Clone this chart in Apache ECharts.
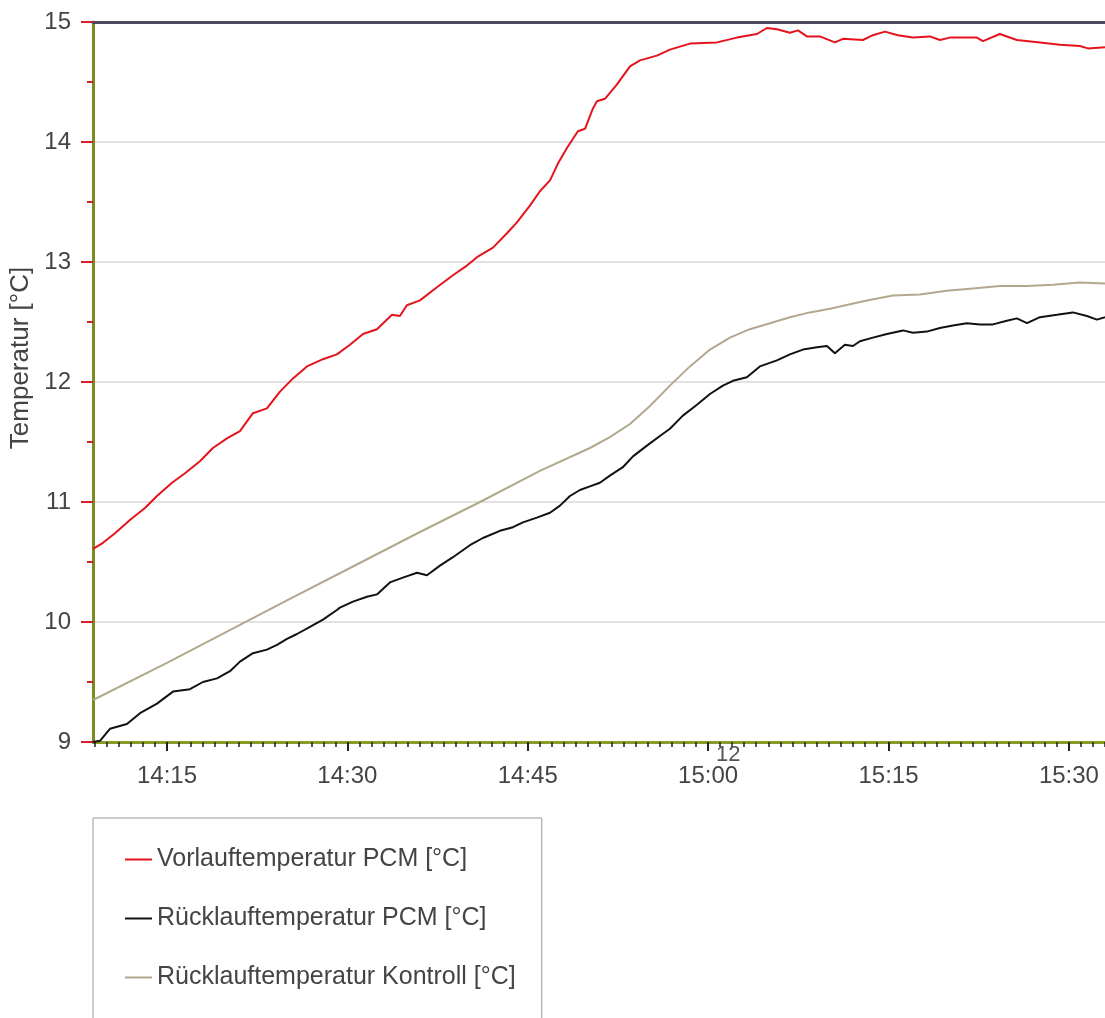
<!DOCTYPE html>
<html>
<head>
<meta charset="utf-8">
<script src="https://cdn.jsdelivr.net/npm/echarts@6/dist/echarts.min.js"></script>
<style>
  html, body { margin: 0; padding: 0; background: #fff; }
  #main { width: 1105px; height: 1018px; }
</style>
</head>
<body>
<div id="main"></div>
<script>
/* ===== data: times in minutes after 14:00 ===== */
const seriesNames = ['Vorlauftemperatur PCM [°C]', 'Rücklauftemperatur PCM [°C]', 'Rücklauftemperatur Kontroll [°C]'];
const tickLabels = ['14:15', '14:30', '14:45', '15:00', '15:15', '15:30'];

const vorlaufTimes = [8.85, 9.68, 10.68, 11.92, 13.17, 14.17, 15.42, 16.50, 17.74, 18.82,
  19.99, 21.07, 22.15, 23.31, 24.40, 25.48, 26.64, 27.97, 29.13, 30.22,
  31.30, 32.46, 33.71, 34.37, 34.95, 36.04, 37.45, 38.78, 39.94, 40.78,
  42.11, 43.27, 44.10, 45.18, 46.01, 46.85, 47.51, 48.26, 49.17, 49.76,
  50.42, 50.75, 51.42, 52.42, 53.50, 54.33, 55.74, 56.82, 58.49, 60.73,
  62.39, 64.06, 64.89, 65.72, 66.80, 67.47, 68.21, 69.29, 70.54, 71.21,
  72.87, 73.70, 74.70, 75.78, 77.03, 78.44, 79.27, 80.10, 82.35, 82.85,
  84.26, 85.67, 87.59, 89.25, 90.91, 91.58, 93.0];
const vorlaufValues = [10.61, 10.66, 10.74, 10.85, 10.95, 11.05, 11.16, 11.24, 11.34, 11.45,
  11.53, 11.59, 11.74, 11.78, 11.92, 12.03, 12.13, 12.19, 12.23, 12.31,
  12.40, 12.44, 12.56, 12.55, 12.64, 12.68, 12.79, 12.89, 12.97, 13.04,
  13.12, 13.24, 13.33, 13.47, 13.59, 13.68, 13.82, 13.95, 14.09, 14.11,
  14.28, 14.34, 14.36, 14.48, 14.63, 14.68, 14.72, 14.77, 14.82, 14.83,
  14.87, 14.90, 14.95, 14.94, 14.91, 14.93, 14.88, 14.88, 14.83, 14.86,
  14.85, 14.89, 14.92, 14.89, 14.87, 14.88, 14.85, 14.87, 14.87, 14.84,
  14.90, 14.85, 14.83, 14.81, 14.80, 14.78, 14.79];

const ruecklaufTimes = [8.85, 9.43, 10.26, 11.67, 12.76, 14.17, 15.50, 16.91, 17.99, 19.16,
  20.24, 21.07, 22.15, 23.31, 24.15, 24.98, 25.81, 26.89, 27.97, 29.13,
  29.38, 30.47, 31.63, 32.46, 33.54, 34.62, 35.79, 36.62, 37.70, 38.78,
  40.19, 41.27, 42.69, 43.77, 44.60, 45.76, 46.85, 47.68, 48.51, 49.34,
  50.17, 51.00, 51.83, 52.91, 53.75, 54.91, 55.99, 56.82, 57.90, 59.07,
  60.15, 61.23, 62.06, 63.22, 64.30, 65.72, 66.80, 67.88, 69.05, 69.88,
  70.54, 71.37, 72.04, 72.62, 73.70, 74.87, 76.20, 77.03, 78.19, 79.27,
  80.35, 81.52, 82.60, 83.68, 84.84, 85.67, 86.51, 87.59, 89.00, 90.33,
  91.50, 92.33, 93.0];
const ruecklaufValues = [9.00, 9.01, 9.11, 9.15, 9.24, 9.32, 9.42, 9.44, 9.50, 9.53,
  9.59, 9.67, 9.74, 9.77, 9.81, 9.86, 9.90, 9.96, 10.02, 10.10,
  10.12, 10.17, 10.21, 10.23, 10.33, 10.37, 10.41, 10.39, 10.47, 10.54,
  10.64, 10.70, 10.76, 10.79, 10.83, 10.87, 10.91, 10.97, 11.05, 11.10,
  11.13, 11.16, 11.22, 11.29, 11.38, 11.47, 11.55, 11.61, 11.72, 11.81,
  11.90, 11.97, 12.01, 12.04, 12.13, 12.18, 12.23, 12.27, 12.29, 12.30,
  12.24, 12.31, 12.30, 12.34, 12.37, 12.40, 12.43, 12.41, 12.42, 12.45,
  12.47, 12.49, 12.48, 12.48, 12.51, 12.53, 12.49, 12.54, 12.56, 12.58,
  12.55, 12.52, 12.54];

const kontrollTimes = [8.85, 15.0, 19.99, 24.98, 30.22, 36.04, 41.03, 46.01, 50.17, 51.83,
  53.50, 55.16, 56.82, 58.49, 60.15, 61.81, 63.47, 65.14, 66.80, 68.46,
  70.13, 73.20, 75.36, 77.61, 79.85, 82.02, 84.26, 86.51, 88.67, 90.91, 93.0];
const kontrollValues = [9.35, 9.66, 9.92, 10.18, 10.45, 10.75, 11.00, 11.26, 11.45, 11.54,
  11.65, 11.80, 11.97, 12.13, 12.27, 12.37, 12.44, 12.49, 12.54, 12.58,
  12.61, 12.68, 12.72, 12.73, 12.76, 12.78, 12.80, 12.80, 12.81, 12.83, 12.82];

/* ===== helpers ===== */
const zip = (t, v) => t.map((x, i) => [x, v[i]]);
const toMin = s => { const p = s.split(':'); return (+p[0] - 14) * 60 + (+p[1]); };
const majorTicks = tickLabels.map(toMin);
const minorTicks = [];
for (let m = 9; m <= 93; m++) minorTicks.push(m);

const FONT = "'Liberation Sans', Arial, sans-serif";
const X_MIN = 8.85, X_MAX = 93;

const chart = echarts.init(document.getElementById('main'));

chart.setOption({
  backgroundColor: '#fff',
  animation: false,
  textStyle: { fontFamily: FONT },
  grid: { left: 93, right: 0, top: 22, bottom: 276, containLabel: false, outerBoundsMode: 'none' },
  legend: {
    orient: 'vertical',
    left: 93,
    top: 818,
    height: 260,
    padding: [29, 26, 50, 32],
    itemGap: 34,
    itemWidth: 27,
    itemHeight: 2,
    icon: 'rect',
    borderColor: '#9a9a9a',
    borderWidth: 1,
    textStyle: { fontSize: 25, color: '#444', fontFamily: FONT },
    data: seriesNames
  },
  xAxis: [
    {
      type: 'value', min: X_MIN, max: X_MAX, position: 'bottom',
      axisLine: { lineStyle: { color: '#8a9a24', width: 3 } },
      axisTick: { customValues: majorTicks, length: 9, lineStyle: { color: '#222', width: 2 } },
      axisLabel: {
        customValues: majorTicks, fontSize: 24, color: '#444', margin: 22, fontFamily: FONT,
        formatter: v => tickLabels[majorTicks.indexOf(v)]
      },
      splitLine: { show: false }
    },
    {
      type: 'value', min: X_MIN, max: X_MAX, position: 'bottom',
      axisLine: { show: false },
      axisTick: { customValues: minorTicks, length: 5, lineStyle: { color: '#222', width: 1.5 } },
      axisLabel: { show: false },
      splitLine: { show: false }
    },
    {
      type: 'value', min: X_MIN, max: X_MAX, position: 'top',
      axisLine: { lineStyle: { color: '#4b4b5e', width: 3 } },
      axisTick: { show: false },
      axisLabel: { show: false },
      splitLine: { show: false }
    }
  ],
  yAxis: {
    type: 'value', min: 9, max: 15, interval: 1,
    name: 'Temperatur [°C]',
    nameLocation: 'middle',
    nameGap: 56,
    nameTextStyle: { fontSize: 26, color: '#444', fontFamily: FONT, padding: [0, 0, 0, 48] },
    axisLine: { show: true, lineStyle: { color: '#7b8c1c', width: 3 } },
    axisTick: { show: true, length: 12, lineStyle: { color: '#d4202c', width: 2 } },
    minorTick: { show: true, splitNumber: 2, length: 6, lineStyle: { color: '#d4202c', width: 2 } },
    axisLabel: { fontSize: 24, color: '#444', margin: 22, fontFamily: FONT },
    splitLine: { lineStyle: { color: '#d9d9d9', width: 1.5 } }
  },
  graphic: [{
    type: 'text', left: 716, top: 744, z: 10,
    style: { text: '12', fontSize: 22, fill: '#555', fontFamily: FONT }
  }],
  series: [
    {
      name: seriesNames[0], type: 'line', showSymbol: false, symbol: 'none',
      data: zip(vorlaufTimes, vorlaufValues),
      lineStyle: { color: '#e3141c', width: 2 }, itemStyle: { color: '#e3141c' }, z: 4
    },
    {
      name: seriesNames[1], type: 'line', showSymbol: false, symbol: 'none',
      data: zip(ruecklaufTimes, ruecklaufValues),
      lineStyle: { color: '#111', width: 2 }, itemStyle: { color: '#111' }, z: 3
    },
    {
      name: seriesNames[2], type: 'line', showSymbol: false, symbol: 'none',
      data: zip(kontrollTimes, kontrollValues),
      lineStyle: { color: '#b3a78f', width: 2 }, itemStyle: { color: '#b3a78f' }, z: 2
    }
  ]
});
</script>
</body>
</html>
